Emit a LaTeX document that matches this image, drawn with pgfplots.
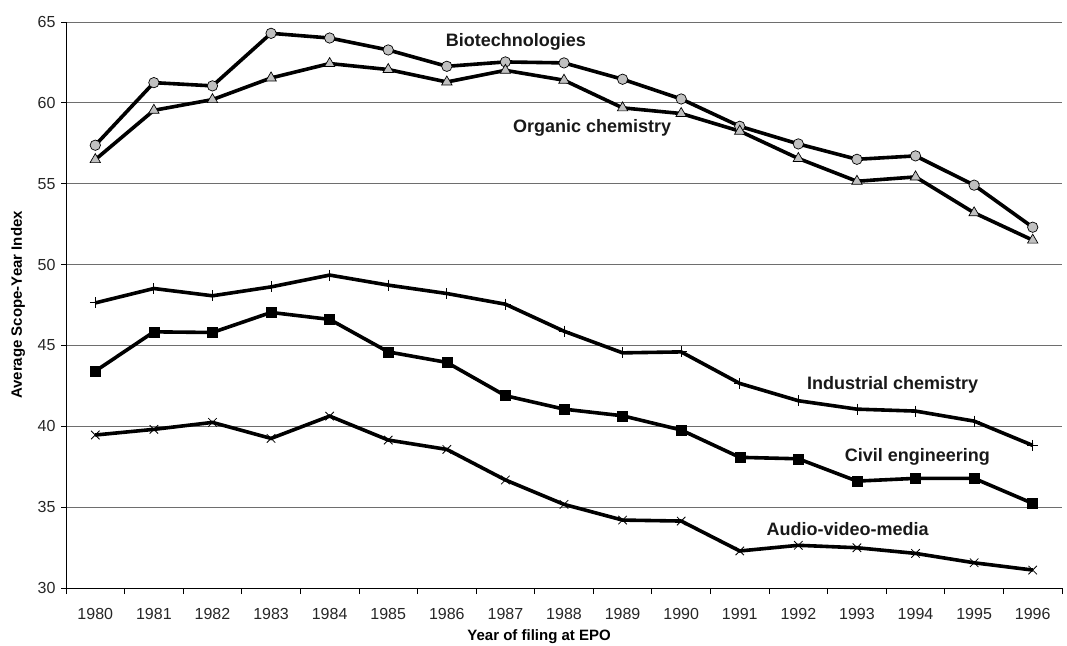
\documentclass[border=0pt]{standalone}
\usepackage{fontspec}
\setmainfont{Liberation Sans}
\usepackage{pgfplots}
\pgfplotsset{compat=1.18}
\definecolor{mkgray}{RGB}{192,192,192}
\definecolor{gridgray}{RGB}{110,110,110}
\begin{document}
\begin{tikzpicture}[x=1pt,y=1pt]
\begin{axis}[
  at={(0,0)}, anchor=south west,
  scale only axis, width=996pt, height=566pt,
  xmin=-0.5, xmax=16.5, ymin=30, ymax=65,
  axis lines=left, axis line style={-, black, line width=0.9pt},
  xtick={0,...,16},
  xticklabels={1980,1981,1982,1983,1984,1985,1986,1987,1988,1989,1990,1991,1992,1993,1994,1995,1996},
  major x tick style={draw=none},
  minor xtick={-0.5,0.5,...,16.5},
  minor tick length=6pt,
  minor x tick style={black, line width=0.8pt},
  ytick={30,35,...,65},
  major tick length=5pt,
  tick align=outside,
  y tick style={black, line width=0.8pt},
  ymajorgrids, grid style={gridgray, line width=0.9pt},
  tick label style={font=\fontsize{16}{18}\selectfont, text=black!85},
  /pgf/number format/assume math mode=true,
  xticklabel style={yshift=-12pt},
  yticklabel style={xshift=-2pt},
  xlabel={Year of filing at EPO},
  ylabel={Average Scope-Year Index},
  every axis x label/.style={at={(axis description cs:0.475,0)}, anchor=center, yshift=-49pt, font=\fontsize{15}{17}\selectfont\bfseries},
  every axis y label/.style={at={(axis description cs:0,0.5)}, anchor=center, xshift=-48pt, rotate=90, font=\fontsize{15}{17}\selectfont\bfseries},
  clip=false,
]
% Biotechnologies
\addplot[black, line width=3.6pt, mark=*, mark size=5.2pt, mark options={fill=mkgray, draw=black, line width=0.7pt}] coordinates {
(0,57.38) (1,61.25) (2,61.05) (3,64.30) (4,64.01) (5,63.27) (6,62.26) (7,62.53) (8,62.47) (9,61.46) (10,60.24) (11,58.55) (12,57.46) (13,56.51) (14,56.72) (15,54.91) (16,52.31)};
% Organic chemistry
\addplot[black, line width=3.6pt, mark=triangle*, mark size=6pt, mark options={fill=mkgray, draw=black, line width=0.7pt}] coordinates {
(0,56.49) (1,59.54) (2,60.20) (3,61.54) (4,62.43) (5,62.06) (6,61.29) (7,62.01) (8,61.40) (9,59.69) (10,59.34) (11,58.25) (12,56.56) (13,55.15) (14,55.42) (15,53.20) (16,51.51)};
% Industrial chemistry
\addplot[black, line width=3.6pt, mark=+, mark size=5.5pt, mark options={line width=0.8pt}] coordinates {
(0,47.63) (1,48.52) (2,48.07) (3,48.62) (4,49.35) (5,48.73) (6,48.21) (7,47.55) (8,45.88) (9,44.54) (10,44.60) (11,42.65) (12,41.58) (13,41.06) (14,40.94) (15,40.32) (16,38.82)};
% Civil engineering
\addplot[black, line width=3.6pt, mark=square*, mark size=5pt, mark options={fill=black, line width=0.5pt}] coordinates {
(0,43.41) (1,45.84) (2,45.80) (3,47.04) (4,46.61) (5,44.60) (6,43.95) (7,41.89) (8,41.06) (9,40.65) (10,39.77) (11,38.08) (12,37.99) (13,36.61) (14,36.78) (15,36.78) (16,35.23)};
% Audio-video-media
\addplot[black, line width=3.6pt, mark=x, mark size=6pt, mark options={line width=0.8pt}] coordinates {
(0,39.46) (1,39.81) (2,40.24) (3,39.25) (4,40.63) (5,39.15) (6,38.57) (7,36.68) (8,35.17) (9,34.20) (10,34.14) (11,32.29) (12,32.64) (13,32.49) (14,32.14) (15,31.56) (16,31.11)};
\begin{scope}[every node/.style={font=\fontsize{18}{20}\selectfont\bfseries, text=black!90}]
\node at (axis cs:7.18,63.78) {Biotechnologies};
\node at (axis cs:8.48,58.43) {Organic chemistry};
\node at (axis cs:13.61,42.55) {Industrial chemistry};
\node at (axis cs:14.03,38.10) {Civil engineering};
\node at (axis cs:12.84,33.65) {Audio-video-media};
\end{scope}
\end{axis}
\pgfresetboundingbox
\useasboundingbox (-66pt,-57pt) rectangle (1001pt,588pt);
\end{tikzpicture}
\end{document}
